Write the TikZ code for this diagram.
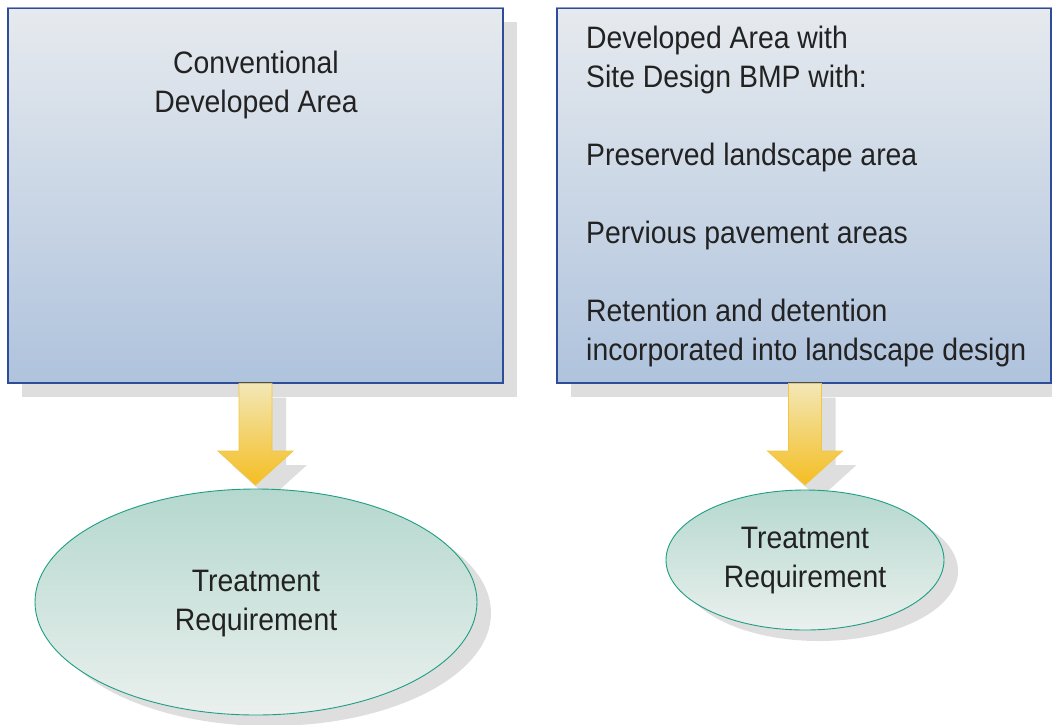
\documentclass[tikz,border=0pt]{standalone}
\usepackage{fontspec}
\setmainfont[FakeStretch=0.915]{Liberation Sans}
\usetikzlibrary{calc,shadows}
\definecolor{boxtop}{HTML}{E6EAEE}
\definecolor{boxbot}{HTML}{AFC3DD}
\definecolor{boxline}{HTML}{2F4C98}
\definecolor{boxlinetop}{HTML}{8E9CCB}
\definecolor{shade}{HTML}{DEDEDE}
\definecolor{elltop}{HTML}{B5D8CE}
\definecolor{ellbot}{HTML}{EAF0EE}
\definecolor{ellline}{HTML}{1E9E82}
\definecolor{arrtop}{HTML}{F3E7B6}
\definecolor{arrbot}{HTML}{F4BE22}
\definecolor{arrline}{HTML}{F2C640}
\definecolor{txt}{HTML}{222222}
\tikzset{
  areabox/.style={rectangle, draw=boxline, line width=1.1pt, top color=boxtop, bottom color=boxbot,
    inner sep=0pt, drop shadow={shadow xshift=14pt, shadow yshift=-14pt, fill=shade, opacity=1}},
  treat/.style={ellipse, draw=ellline, line width=0.9pt, top color=elltop, bottom color=ellbot,
    inner sep=0pt, drop shadow={shadow xshift=14pt, shadow yshift=-11pt, fill=shade, opacity=1}},
  blockarrow/.style={draw=arrline, line width=0.8pt, top color=arrtop, bottom color=arrbot,
    drop shadow={shadow xshift=14pt, shadow yshift=-14pt, fill=shade, opacity=1}},
  label/.style={text=txt, inner sep=0pt, font=\fontsize{31}{39}\selectfont},
}
\usetikzlibrary{shapes.geometric}
\begin{document}
\begin{tikzpicture}[x=1pt,y=-1pt]
\useasboundingbox (0,0) rectangle (1052,724);
% boxes
\node[areabox, minimum width=495pt, minimum height=375pt] (L) at (255.5,195.5) {};
\node[areabox, minimum width=494pt, minimum height=375pt] (R) at (804,195.5) {};
\draw[boxlinetop, line width=1.1pt] (L.north west) -- (L.north east);
\draw[boxlinetop, line width=1.1pt] (R.north west) -- (R.north east);
% texts in boxes
\node[label, align=center, anchor=north] (Lt) at (256,50.5) {Conventional\\Developed Area};
\node[label, align=left, anchor=north west] (Rt) at (586,25.5) {Developed Area with\\Site Design BMP with:\\[39pt]Preserved landscape area\\[39pt]Pervious pavement areas\\[39pt]Retention and detention\\incorporated into landscape design};
% ellipse centres (used for arrow endpoints; ellipses drawn after arrows)
\path (256,602) coordinate (LEc) (805,560) coordinate (REc);
% arrows
\path[blockarrow] let \p1=(L.south), \p2=($(LEc)+(0,-117)$) in
  (\x1-16.5,\y1) -- (\x1+16.5,\y1) -- (\x1+16.5,\y2+34) -- (\x1+37.5,\y2+34) -- (\x1,\y2)
  -- (\x1-37.5,\y2+34) -- (\x1-16.5,\y2+34) -- cycle;
\path[blockarrow] let \p1=($(R.south)+(1,0)$), \p2=($(REc)+(0,-75)$) in
  (\x1-16.5,\y1) -- (\x1+16.5,\y1) -- (\x1+16.5,\y2+34) -- (\x1+37.5,\y2+34) -- (\x1,\y2)
  -- (\x1-37.5,\y2+34) -- (\x1-16.5,\y2+34) -- cycle;
% ellipses
\node[treat, minimum width=442pt, minimum height=226pt] (LE) at (LEc) {};
\node[treat, minimum width=278pt, minimum height=140pt] (RE) at (REc) {};
\node[label, align=center, anchor=north] (LEt) at (256,569.5) {Treatment\\Requirement};
\node[label, align=center, anchor=north] (REt) at (805,526.5) {Treatment\\Requirement};
\end{tikzpicture}
\end{document}
